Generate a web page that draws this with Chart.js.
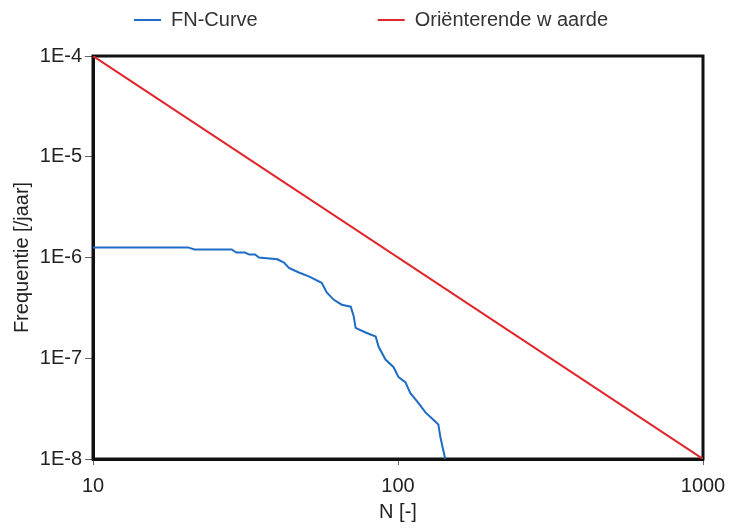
<!DOCTYPE html>
<html>
<head>
<meta charset="utf-8">
<script src="https://cdn.jsdelivr.net/npm/chart.js@4.4.1/dist/chart.umd.min.js"></script>
<style>
  html, body { margin: 0; padding: 0; background: #fff; }
  #wrap { width: 729px; height: 529px; position: relative; }
</style>
</head>
<body>
<div id="wrap"><canvas id="fnChart"></canvas></div>
<script>
// FN-curve (N, frequency per year)
const fnN = [10, 20.5, 21.5, 28.5, 29.5, 31.5, 32.5, 34.0, 35.0, 40.2, 42.3, 43.9, 47.3, 51.0, 56.2, 58.4,
  61.6, 65.4, 70.0, 71.6, 72.6, 78.3, 84.5, 86.4, 91.0, 96.6, 100.4, 105.7, 109.8, 116.6, 123.0, 130.6,
  135.6, 137.7, 140.7, 142.9];
const fnF = [1.26e-6, 1.26e-6, 1.20e-6, 1.20e-6, 1.12e-6, 1.12e-6, 1.07e-6, 1.07e-6, 1.00e-6, 9.6e-7, 8.9e-7,
  7.9e-7, 7.1e-7, 6.5e-7, 5.6e-7, 4.5e-7, 3.8e-7, 3.4e-7, 3.25e-7, 2.6e-7, 2.0e-7, 1.8e-7, 1.64e-7, 1.30e-7,
  9.7e-8, 8.2e-8, 6.5e-8, 5.8e-8, 4.5e-8, 3.6e-8, 2.9e-8, 2.45e-8, 2.2e-8, 1.65e-8, 1.23e-8, 1.0e-8];

// orienterende waarde: straight line on log-log
const refN = [10, 1000];
const refF = [1e-4, 1e-8];

const xTicks = [10, 100, 1000];
const xTickLabels = ['10', '100', '1000'];
const yTicks = [1e-8, 1e-7, 1e-6, 1e-5, 1e-4];
const yTickLabels = ['1E-8', '1E-7', '1E-6', '1E-5', '1E-4'];
const seriesLabels = ['FN-Curve', 'Oriënterende w aarde'];

Chart.defaults.font.family = "'Liberation Sans', Arial, sans-serif";
Chart.defaults.font.size = 20;
Chart.defaults.color = '#222';

// move the legend to where the original has it (left-ish, wide gap)
const legendSpot = {
  id: 'legendSpot',
  afterLayout(chart) {
    const lg = chart.legend;
    const pad = lg.options.labels.padding;
    lg.left = 134 - pad;
    lg.right = 2000;
    lg.top = 20 - pad - 10;
  },
};

// closed box round the plot
const frame = {
  id: 'frame',
  beforeDatasetsDraw(chart) {
    const { ctx, chartArea: a } = chart;
    ctx.save();
    ctx.strokeStyle = '#111';
    ctx.lineWidth = 3;
    ctx.strokeRect(a.left, a.top, a.right - a.left, a.bottom - a.top);
    ctx.restore();
  },
};

function toPoints(xs, ys) {
  return xs.map((x, i) => ({ x, y: ys[i] }));
}

new Chart(document.getElementById('fnChart'), {
  type: 'line',
  data: {
    datasets: [
      {
        label: seriesLabels[0],
        data: toPoints(fnN, fnF),
        borderColor: '#1f6cc6',
        backgroundColor: '#1f6cc6',
        borderWidth: 2,
        pointRadius: 0,
      },
      {
        label: seriesLabels[1],
        data: toPoints(refN, refF),
        borderColor: '#e0262b',
        backgroundColor: '#e0262b',
        borderWidth: 2,
        pointRadius: 0,
      },
    ],
  },
  options: {
    responsive: true,
    maintainAspectRatio: false,
    animation: false,
    layout: { padding: { top: 10, right: 26, bottom: 0, left: 0 } },
    plugins: {
      tooltip: { enabled: false },
      legend: {
        position: 'top',
        align: 'start',
        maxHeight: 46,
        labels: {
          usePointStyle: true,
          pointStyle: 'line',
          pointStyleWidth: 27,
          padding: 120,
          color: '#333',
        },
      },
    },
    scales: {
      x: {
        type: 'logarithmic',
        min: 10,
        max: 1000,
        afterBuildTicks: (scale) => { scale.ticks = xTicks.map((v) => ({ value: v })); },
        afterFit: (scale) => {
          scale.height = 70;
          scale.paddingLeft = 0;
          scale.paddingRight = 0;
        },
        ticks: {
          color: '#222',
          padding: 9,
          maxRotation: 0,
          callback: (v, i) => xTickLabels[i],
        },
        grid: { drawOnChartArea: false, drawTicks: true, tickLength: 6, color: '#666' },
        border: { display: true, color: '#111', width: 3 },
        title: { display: true, text: 'N [-]', color: '#222', padding: { top: 0, bottom: 5 } },
      },
      y: {
        type: 'logarithmic',
        min: 1e-8,
        max: 1e-4,
        afterBuildTicks: (scale) => { scale.ticks = yTicks.map((v) => ({ value: v })); },
        afterFit: (scale) => { scale.width = 93; },
        ticks: {
          color: '#222',
          padding: 3,
          callback: (v, i) => yTickLabels[i],
        },
        grid: { drawOnChartArea: false, drawTicks: true, tickLength: 8, color: '#666' },
        border: { display: true, color: '#111', width: 3 },
        title: { display: true, text: 'Frequentie [/jaar]', color: '#222', padding: 10 },
      },
    },
  },
  plugins: [legendSpot, frame],
});
</script>
</body>
</html>
